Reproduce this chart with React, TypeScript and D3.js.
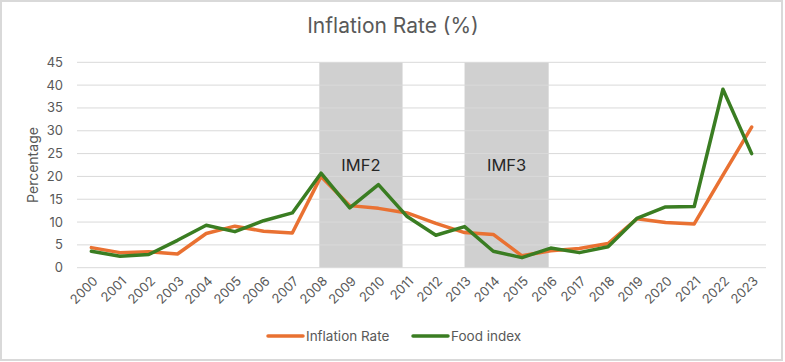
import React, { useEffect, useRef } from 'react';
import * as d3 from 'd3';

// Chart data
const years = [
  '2000', '2001', '2002', '2003', '2004', '2005', '2006', '2007', '2008', '2009', '2010', '2011',
  '2012', '2013', '2014', '2015', '2016', '2017', '2018', '2019', '2020', '2021', '2022', '2023',
];
const inflationRate = [
  4.4, 3.3, 3.5, 3.0, 7.5, 9.1, 8.0, 7.6, 20.0, 13.6, 13.0, 12.0,
  9.7, 7.7, 7.3, 2.6, 3.7, 4.2, 5.3, 10.7, 9.9, 9.6, 20.3, 30.8,
];
const foodIndex = [
  3.6, 2.5, 2.9, 6.0, 9.3, 7.9, 10.3, 12.0, 20.7, 13.1, 18.2, 11.2,
  7.1, 9.0, 3.6, 2.2, 4.3, 3.3, 4.6, 10.8, 13.3, 13.4, 39.1, 25.0,
];
const yTicks = [0, 5, 10, 15, 20, 25, 30, 35, 40, 45];
const periodLabels = ['IMF2', 'IMF3'];
const periodStarts = [2007.94, 2013.0];
const periodEnds = [2010.84, 2015.93];

const seriesNames = ['Inflation Rate', 'Food index'];
const seriesColors = ['#E97132', '#3A7D22'];

const App: React.FC = () => {
  const svgRef = useRef<SVGSVGElement>(null);

  useEffect(() => {
    if (!svgRef.current) return;
    const width = 785;
    const height = 362;
    const font = 'Inter, "Open Sans", sans-serif';
    const grey = '#595959';

    const svg = d3.select(svgRef.current);
    svg.selectAll('*').remove();
    svg.attr('width', width).attr('height', height);

    // Background and frame
    svg.append('rect')
      .attr('x', 1).attr('y', 1)
      .attr('width', 781).attr('height', 359)
      .attr('fill', '#fff')
      .attr('stroke', '#d9d9d9')
      .attr('stroke-width', 2);

    const plotLeft = 77;
    const plotRight = 766;
    const plotTop = 62.3;
    const plotBottom = 267.7;

    const x = d3.scaleBand<string>().domain(years).range([plotLeft, plotRight]);
    const xc = (d: string) => (x(d) ?? 0) + x.bandwidth() / 2;
    const xYear = d3.scaleLinear()
      .domain([+years[0], +years[years.length - 1]])
      .range([xc(years[0]), xc(years[years.length - 1])]);
    const y = d3.scaleLinear().domain([0, 45]).range([plotBottom, plotTop]);

    // Title
    svg.append('text')
      .attr('x', 393).attr('y', 33)
      .attr('text-anchor', 'middle')
      .attr('font-family', font)
      .attr('font-size', 21)
      .attr('fill', grey)
      .text('Inflation Rate (%)');

    // Shaded periods
    const periods = periodLabels.map((label, i) => ({ label, start: periodStarts[i], end: periodEnds[i] }));
    svg.append('g')
      .selectAll('rect')
      .data(periods)
      .enter()
      .append('rect')
      .attr('x', d => xYear(d.start))
      .attr('width', d => xYear(d.end) - xYear(d.start))
      .attr('y', y(45))
      .attr('height', y(0) - y(45))
      .attr('fill', '#d0d0d0');

    // Gridlines
    svg.append('g')
      .selectAll('line')
      .data(yTicks)
      .enter()
      .append('line')
      .attr('x1', plotLeft).attr('x2', plotRight)
      .attr('y1', d => y(d)).attr('y2', d => y(d))
      .attr('stroke', '#d9d9d9')
      .attr('stroke-width', 1);

    // Period labels
    svg.append('g')
      .selectAll('text')
      .data(periods)
      .enter()
      .append('text')
      .attr('x', d => (xYear(d.start) + xYear(d.end)) / 2)
      .attr('y', 171)
      .attr('text-anchor', 'middle')
      .attr('font-family', font)
      .attr('font-size', 16.5)
      .attr('fill', '#262626')
      .text(d => d.label);

    // Y tick labels
    svg.append('g')
      .selectAll('text')
      .data(yTicks)
      .enter()
      .append('text')
      .attr('x', 63)
      .attr('y', d => y(d))
      .attr('dy', '0.35em')
      .attr('text-anchor', 'end')
      .attr('font-family', font)
      .attr('font-size', 13)
      .attr('fill', grey)
      .text(d => d);

    // Y axis title
    svg.append('text')
      .attr('transform', `translate(38, ${(plotTop + plotBottom) / 2}) rotate(-90)`)
      .attr('text-anchor', 'middle')
      .attr('font-family', font)
      .attr('font-size', 14)
      .attr('fill', grey)
      .text('Percentage');

    // X tick labels
    svg.append('g')
      .selectAll('text')
      .data(years)
      .enter()
      .append('text')
      .attr('transform', d => `translate(${xc(d) + 4}, ${plotBottom + 11}) rotate(-45)`)
      .attr('text-anchor', 'end')
      .attr('dy', '0.35em')
      .attr('font-family', font)
      .attr('font-size', 13)
      .attr('fill', grey)
      .text(d => d);

    // Lines
    const series = [inflationRate, foodIndex];
    const line = d3.line<number>()
      .x((_, i) => xc(years[i]))
      .y(d => y(d));
    series.forEach((values, i) => {
      svg.append('path')
        .datum(values)
        .attr('d', line)
        .attr('fill', 'none')
        .attr('stroke', seriesColors[i])
        .attr('stroke-width', 3.5)
        .attr('stroke-linejoin', 'round')
        .attr('stroke-linecap', 'round');
    });

    // Legend
    const legendX = [268, 413];
    const legend = svg.append('g')
      .selectAll('g')
      .data(seriesNames)
      .enter()
      .append('g')
      .attr('transform', (_, i) => `translate(${legendX[i]}, 336)`);
    legend.append('line')
      .attr('x1', 0).attr('x2', 35)
      .attr('stroke', (_, i) => seriesColors[i])
      .attr('stroke-width', 3.5)
      .attr('stroke-linecap', 'round');
    legend.append('text')
      .attr('x', 38)
      .attr('dy', '0.35em')
      .attr('font-family', font)
      .attr('font-size', 13.5)
      .attr('fill', grey)
      .text(d => d);
  }, []);

  return (
    <svg ref={svgRef} style={{ position: 'absolute', left: 0, top: 0, display: 'block' }} />
  );
};

export default App;
